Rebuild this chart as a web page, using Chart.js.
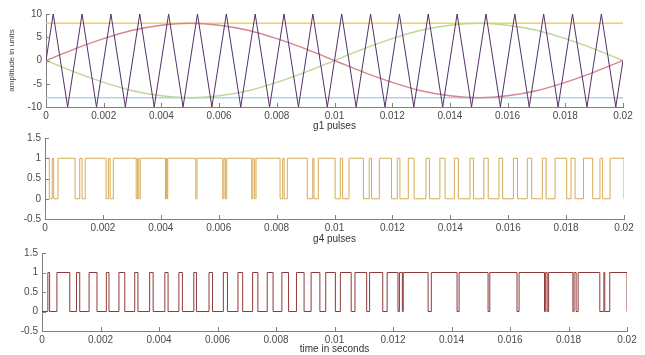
<!DOCTYPE html>
<html>
<head>
<meta charset="utf-8">
<script src="https://cdn.jsdelivr.net/npm/chart.js@4.4.1/dist/chart.umd.min.js"></script>
<style>
  body { margin: 0; background: #fff; }
  #wrap { position: relative; width: 645px; height: 355px; overflow: hidden; }
  canvas { position: absolute; left: 0; }
</style>
</head>
<body>
<div id="wrap">
  <canvas id="c1" width="645" height="133" style="top:0px"></canvas>
  <canvas id="c2" width="645" height="117" style="top:128px"></canvas>
  <canvas id="c3" width="645" height="112" style="top:243px"></canvas>
</div>
<script>
// triangle carrier (vertices)
const carrierTimes = [0, 0.00025, 0.00075, 0.00125, 0.00175, 0.00225, 0.00275, 0.00325, 0.00375, 0.00425,
    0.00475, 0.00525, 0.00575, 0.00625, 0.00675, 0.00725, 0.00775, 0.00825, 0.00875, 0.00925,
    0.00975, 0.01025, 0.01075, 0.01125, 0.01175, 0.01225, 0.01275, 0.01325, 0.01375, 0.01425,
    0.01475, 0.01525, 0.01575, 0.01625, 0.01675, 0.01725, 0.01775, 0.01825, 0.01875, 0.01925,
    0.01975, 0.02];
const carrierValues = [0, 10, -10, 10, -10, 10, -10, 10, -10, 10,
    -10, 10, -10, 10, -10, 10, -10, 10, -10, 10,
    -10, 10, -10, 10, -10, 10, -10, 10, -10, 10,
    -10, 10, -10, 10, -10, 10, -10, 10, -10, 10,
    -10, 0];

// reference waves
const refTimes = [0, 0.001, 0.002, 0.003, 0.004, 0.005, 0.006, 0.007, 0.008, 0.009, 0.01,
    0.011, 0.012, 0.013, 0.014, 0.015, 0.016, 0.017, 0.018, 0.019, 0.02];
const refA = [0, 2.5, 4.7, 6.5, 7.6, 8, 7.6, 6.5, 4.7, 2.5, 0, -2.5, -4.7, -6.5, -7.6, -8, -7.6, -6.5, -4.7, -2.5, 0];
const refB = [0, -2.5, -4.7, -6.5, -7.6, -8, -7.6, -6.5, -4.7, -2.5, 0, 2.5, 4.7, 6.5, 7.6, 8, 7.6, 6.5, 4.7, 2.5, 0];
const upperLevel = 8;
const lowerLevel = -8;

// g1 pulses: start level and the times where it toggles
const g1Start = 1;
const g1Edges = [0.00015, 0.00025, 0.0003, 0.00045,
    0.00104, 0.0012, 0.00128, 0.00139,
    0.00211, 0.00219, 0.00225, 0.00236,
    0.00315, 0.0032, 0.00324, 0.00329,
    0.00416, 0.00419, 0.00421, 0.00424,
    0.00521, 0.00525,
    0.00614, 0.00618, 0.00623, 0.00628,
    0.00714, 0.00718, 0.00724, 0.00729,
    0.00812, 0.00821, 0.00826, 0.00837,
    0.00906, 0.00925, 0.00929, 0.00944,
    0.01002, 0.0102, 0.01028, 0.0105,
    0.011, 0.0112, 0.01128, 0.01155,
    0.01197, 0.01217, 0.01226, 0.01255,
    0.01275, 0.01316, 0.01328, 0.01364, 0.01382, 0.01414, 0.01428, 0.01468, 0.0148,
    0.01516, 0.01531, 0.01568, 0.01581, 0.01618, 0.01632, 0.01666, 0.01681, 0.01718, 0.01731,
    0.01762, 0.01802, 0.01817, 0.01831, 0.0186, 0.01892, 0.01917, 0.01926, 0.01952, 0.02];

// g4 pulses
const g4Start = 0;
const g4Edges = [0.0002, 0.00026, 0.00051, 0.00095, 0.00118, 0.00129, 0.00161, 0.00188,
    0.0022, 0.00229, 0.00263, 0.00283, 0.00317, 0.00328, 0.00368, 0.0038,
    0.0042, 0.00431, 0.00468, 0.0048, 0.00519, 0.00528, 0.00571, 0.00583,
    0.0062, 0.00634, 0.0067, 0.00686, 0.0072, 0.00738, 0.0077, 0.0079,
    0.0082, 0.00843, 0.0087, 0.00896, 0.0092, 0.0095, 0.0097, 0.01003,
    0.0102, 0.01057, 0.0107, 0.0111, 0.0112, 0.01165,
    0.0118, 0.01217, 0.01222, 0.01232, 0.01235,
    0.0132, 0.01331, 0.01419, 0.01426, 0.01525, 0.01531, 0.01624, 0.01631,
    0.01718, 0.01722, 0.01727, 0.01732, 0.01815, 0.01819, 0.01826, 0.01833,
    0.01907, 0.01921, 0.01924, 0.01941, 0.02];

const xTicks = [0, 0.002, 0.004, 0.006, 0.008, 0.01, 0.012, 0.014, 0.016, 0.018, 0.02];

const axisColor = '#808080';
const labelColor = '#4a4a4a';
const fontName = '"Liberation Sans", Arial, sans-serif';

function pairs(xs, ys) {
    return xs.map((x, i) => ({x: x, y: ys[i]}));
}

// edges -> points for a stepped line
function pulsePoints(start, edges) {
    let level = start;
    const pts = [{x: 0, y: level}];
    edges.forEach(t => {
        level = 1 - level;
        pts.push({x: t, y: level});
    });
    if (pts[pts.length - 1].x < 0.02) pts.push({x: 0.02, y: level});
    return pts;
}

// MATLAB style inward tick marks
const innerTicks = {
    id: 'innerTicks',
    afterDraw(chart) {
        const {ctx, scales: {x, y}} = chart;
        ctx.save();
        ctx.strokeStyle = axisColor;
        ctx.lineWidth = 1;
        ctx.beginPath();
        x.ticks.forEach(t => {
            const px = Math.round(x.getPixelForValue(t.value)) + 0.5;
            ctx.moveTo(px, y.bottom);
            ctx.lineTo(px, y.bottom - 4);
        });
        y.ticks.forEach(t => {
            const py = Math.round(y.getPixelForValue(t.value)) + 0.5;
            ctx.moveTo(x.left, py);
            ctx.lineTo(x.left + 4, py);
        });
        ctx.stroke();
        ctx.restore();
    }
};

function makeChart(id, datasets, o) {
    return new Chart(document.getElementById(id), {
        type: 'line',
        data: {datasets: datasets},
        plugins: [innerTicks],
        options: {
            responsive: false,
            animation: false,
            devicePixelRatio: 1,
            layout: {padding: {top: o.top, right: o.right, left: 0, bottom: 0}},
            plugins: {legend: {display: false}, tooltip: {enabled: false}},
            elements: {point: {radius: 0}},
            scales: {
                x: {
                    type: 'linear', min: 0, max: 0.02,
                    afterBuildTicks: s => { s.ticks = xTicks.map(v => ({value: v})); },
                    afterFit: s => { s.height = o.xHeight; },
                    grid: {display: false, drawTicks: false},
                    border: {display: true, color: axisColor},
                    ticks: {
                        color: labelColor, padding: 3, maxRotation: 0, autoSkip: false,
                        font: {family: fontName, size: 10},
                        callback: v => String(Number(v.toFixed(4)))
                    },
                    title: {
                        display: true, text: o.title, color: '#333',
                        font: {family: fontName, size: 10}, padding: {top: 0, bottom: o.titlePad}
                    }
                },
                y: {
                    min: o.yMin, max: o.yMax,
                    afterFit: s => { s.width = o.left; },
                    grid: {display: false, drawTicks: false},
                    border: {display: true, color: axisColor},
                    ticks: {
                        stepSize: o.yStep, color: labelColor, padding: 4,
                        font: {family: fontName, size: 10},
                        callback: v => String(Number(v.toFixed(2)))
                    },
                    title: {
                        display: !!o.yTitle, text: o.yTitle || '', color: '#444',
                        font: {family: fontName, size: 8}, padding: {top: 7, bottom: 0}
                    }
                }
            }
        }
    });
}

// subplot 1: carrier and references
makeChart('c1', [
    {data: pairs(carrierTimes, carrierValues), borderColor: '#553068', borderWidth: 1},
    {data: pairs(refTimes, refA), borderColor: '#d88592', borderWidth: 1.5, cubicInterpolationMode: 'monotone'},
    {data: pairs(refTimes, refB), borderColor: '#bcd896', borderWidth: 1.5, cubicInterpolationMode: 'monotone'},
    {data: [{x: 0, y: upperLevel}, {x: 0.02, y: upperLevel}], borderColor: '#f2d35a', borderWidth: 1.5},
    {data: [{x: 0, y: lowerLevel}, {x: 0.02, y: lowerLevel}], borderColor: '#acd6e6', borderWidth: 1.5}
], {top: 14, right: 22, left: 46, xHeight: 26, yMin: -10, yMax: 10, yStep: 5,
    title: 'g1 pulses', titlePad: 1, yTitle: 'amplitude in units'});

// subplot 2: g1
makeChart('c2', [
    {data: pulsePoints(g1Start, g1Edges), borderColor: '#d6ab55', borderWidth: 1, stepped: true}
], {top: 7, right: 21, left: 45, xHeight: 26, yMin: -0.5, yMax: 1.5, yStep: 0.5,
    title: 'g4 pulses', titlePad: 0});

// subplot 3: g4
makeChart('c3', [
    {data: pulsePoints(g4Start, g4Edges), borderColor: '#8e3a3a', borderWidth: 1, stepped: true}
], {top: 7, right: 18, left: 42, xHeight: 24, yMin: -0.5, yMax: 1.5, yStep: 0.5,
    title: 'time in seconds', titlePad: 0});
</script>
</body>
</html>
